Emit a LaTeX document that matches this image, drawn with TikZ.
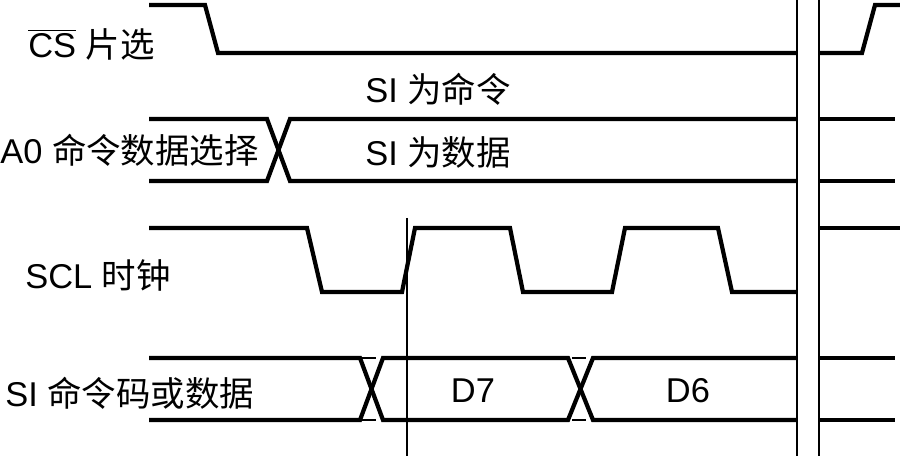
\documentclass[tikz,border=0pt]{standalone}
\usepackage{fontspec}
\setmainfont{Liberation Sans}
\newfontfamily\cjk{Noto Sans CJK SC}

\begin{document}
\begin{tikzpicture}
    [x=0.02cm, y=-0.02cm,
     wave/.style={draw=black, line width=2.4pt, line join=miter},
     cutline/.style={draw=black, line width=1.1pt},
     tickline/.style={draw=black, line width=0.6pt},
     label/.style={font=\fontsize{19.6}{22}\selectfont, inner sep=0pt, anchor=west},
    ]

\useasboundingbox (0,0) rectangle (900,456);

% signal names
\node[label] (node_cs) at (28,44) {$\overline{\hbox{CS}}$ {\cjk 片选}};
\node[label] (node_a0) at (0,150) {A0 {\cjk 命令数据选择}};
\node[label] (node_scl) at (25,275) {SCL {\cjk 时钟}};
\node[label] (node_si) at (5,393) {SI {\cjk 命令码或数据}};

% texts inside the waves
\node[label] (node_cmd) at (365,89) {SI {\cjk 为命令}};
\node[label] (node_data) at (365,152) {SI {\cjk 为数据}};
\node[label, anchor=center] (node_d7) at (473,391) {D7};
\node[label, anchor=center] (node_d6) at (688,391) {D6};

% CS
\draw[wave] (149,5) -- (205,5) -- (218,53) -- (797,53);
\draw[wave] (819,53) -- (862,53) -- (875,5) -- (900,5);

% A0
\draw[wave] (149,119) -- (267,119) -- (290,181) -- (797,181);
\draw[wave] (149,181) -- (267,181) -- (290,119) -- (797,119);
\draw[wave] (819,119) -- (895,119);
\draw[wave] (819,181) -- (895,181);

% SCL
\draw[wave] (149,228) -- (307,228) -- (322,292) -- (402,292) -- (415,228) -- (510,228)
    -- (523,292) -- (612,292) -- (625,228) -- (718,228) -- (732,292) -- (797,292);
\draw[wave] (819,228) -- (900,228);

% SI
\draw[wave] (149,358) -- (360,358) -- (383,420) -- (568,420) -- (593,358) -- (797,358);
\draw[wave] (149,420) -- (360,420) -- (383,358) -- (568,358) -- (593,420) -- (797,420);
\draw[wave] (819,358) -- (895,358);
\draw[wave] (819,420) -- (895,420);
\draw[tickline] (362,358) -- (376,358);
\draw[tickline] (362,420) -- (376,420);
\draw[tickline] (572,358) -- (586,358);
\draw[tickline] (572,420) -- (586,420);

% break and sample line
\draw[cutline] (797,0) -- (797,456);
\draw[cutline] (819,0) -- (819,456);
\draw[draw=black, line width=0.8pt] (407,218) -- (407,456);

\end{tikzpicture}
\end{document}
